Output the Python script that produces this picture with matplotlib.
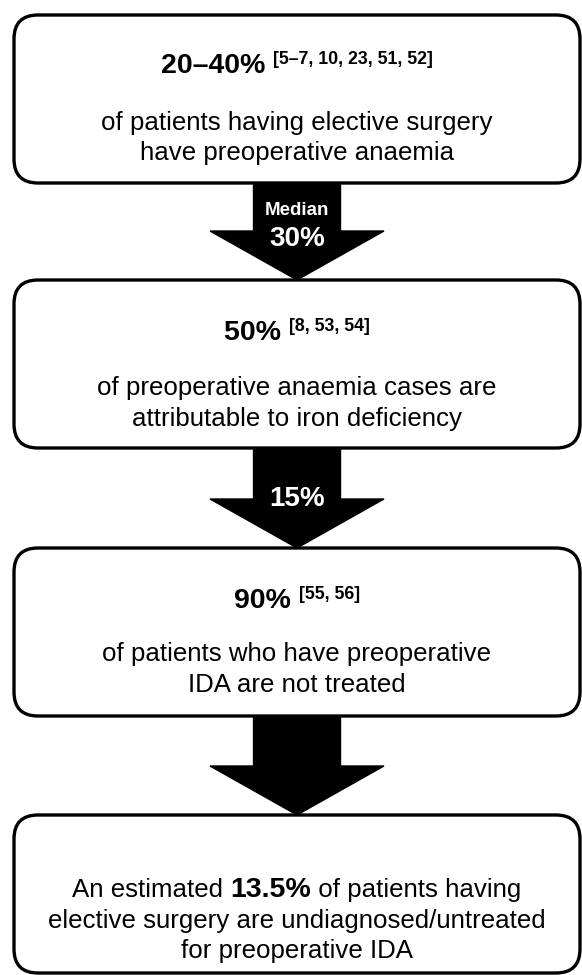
import matplotlib
matplotlib.use("Agg")
import matplotlib.pyplot as plt
from matplotlib.patches import FancyBboxPatch, Polygon

plt.rcParams['font.family'] = ['Liberation Sans', 'DejaVu Sans']

W, H = 582, 975

# flow content
headers = ["20\u201340%", "50%", "90%"]
refs = ["[5\u20137, 10, 23, 51, 52]", "[8, 53, 54]", "[55, 56]"]
bodies = [
    ["of patients having elective surgery", "have preoperative anaemia"],
    ["of preoperative anaemia cases are", "attributable to iron deficiency"],
    ["of patients who have preoperative", "IDA are not treated"],
]
arrow_labels = [["Median", "30%"], ["15%"], []]
final_value = "13.5%"
final_lines = ["An estimated ", " of patients having",
               "elective surgery are undiagnosed/untreated",
               "for preoperative IDA"]

# layout (pixels)
box_x0, box_x1 = 14, 580
box_tops = [15, 280, 548, 815]
box_bots = [183, 448, 716, 973]
shaft_w, head_w, head_h = 87, 174, 49
cx = (box_x0 + box_x1) / 2
body_fs = 18.6

fig = plt.figure(figsize=(W / 100, H / 100), dpi=100)
ax = fig.add_axes([0, 0, 1, 1])
ax.set_xlim(0, W)
ax.set_ylim(H, 0)
ax.axis('off')
renderer = fig.canvas.get_renderer()


def width_of(t):
    return t.get_window_extent(renderer=renderer).width


def row(pieces, y):
    # pieces: list of (text, size, weight, dy)
    items = [ax.text(0, y + dy, s, fontsize=fs, fontweight=fw, va='baseline',
                     ha='left', color='black') for s, fs, fw, dy in pieces]
    widths = [width_of(t) for t in items]
    x = cx - sum(widths) / 2
    for t, w in zip(items, widths):
        t.set_x(x)
        x += w
    return items


for top, bot in zip(box_tops, box_bots):
    ax.add_patch(FancyBboxPatch((box_x0, top), box_x1 - box_x0, bot - top,
                                boxstyle="round,pad=0,rounding_size=24",
                                fc='white', ec='black', lw=2.4, zorder=1))

for i in range(3):
    y0 = box_bots[i] + 1
    tip = box_tops[i + 1]
    base = tip - head_h
    pts = [(cx - shaft_w / 2, y0), (cx + shaft_w / 2, y0),
           (cx + shaft_w / 2, base), (cx + head_w / 2, base), (cx, tip),
           (cx - head_w / 2, base), (cx - shaft_w / 2, base)]
    ax.add_patch(Polygon(pts, closed=True, fc='black', ec='black', lw=1, zorder=3))

# arrow labels
ax.text(cx, 215, arrow_labels[0][0], fontsize=13.5, fontweight='bold', color='white',
        ha='center', va='baseline', zorder=4)
ax.text(cx, 246, arrow_labels[0][1], fontsize=20, fontweight='bold', color='white',
        ha='center', va='baseline', zorder=4)
ax.text(cx, 506, arrow_labels[1][0], fontsize=20, fontweight='bold', color='white',
        ha='center', va='baseline', zorder=4)

header_base = [73, 340, 608]
body_base = [[130, 160], [395, 426], [661, 692]]
for i in range(3):
    row([(headers[i] + " ", 20.5, 'bold', 0), (refs[i], 12.8, 'bold', -9)], header_base[i])
    for line, yb in zip(bodies[i], body_base[i]):
        ax.text(cx, yb, line, fontsize=body_fs, ha='center', va='baseline', color='black')

row([(final_lines[0], body_fs, 'normal', 0), (final_value, 20.5, 'bold', 0),
     (final_lines[1], body_fs, 'normal', 0)], 897)
ax.text(cx, 928, final_lines[2], fontsize=body_fs, ha='center', va='baseline')
ax.text(cx, 958, final_lines[3], fontsize=body_fs, ha='center', va='baseline')

fig.savefig('out.png', dpi=100)
